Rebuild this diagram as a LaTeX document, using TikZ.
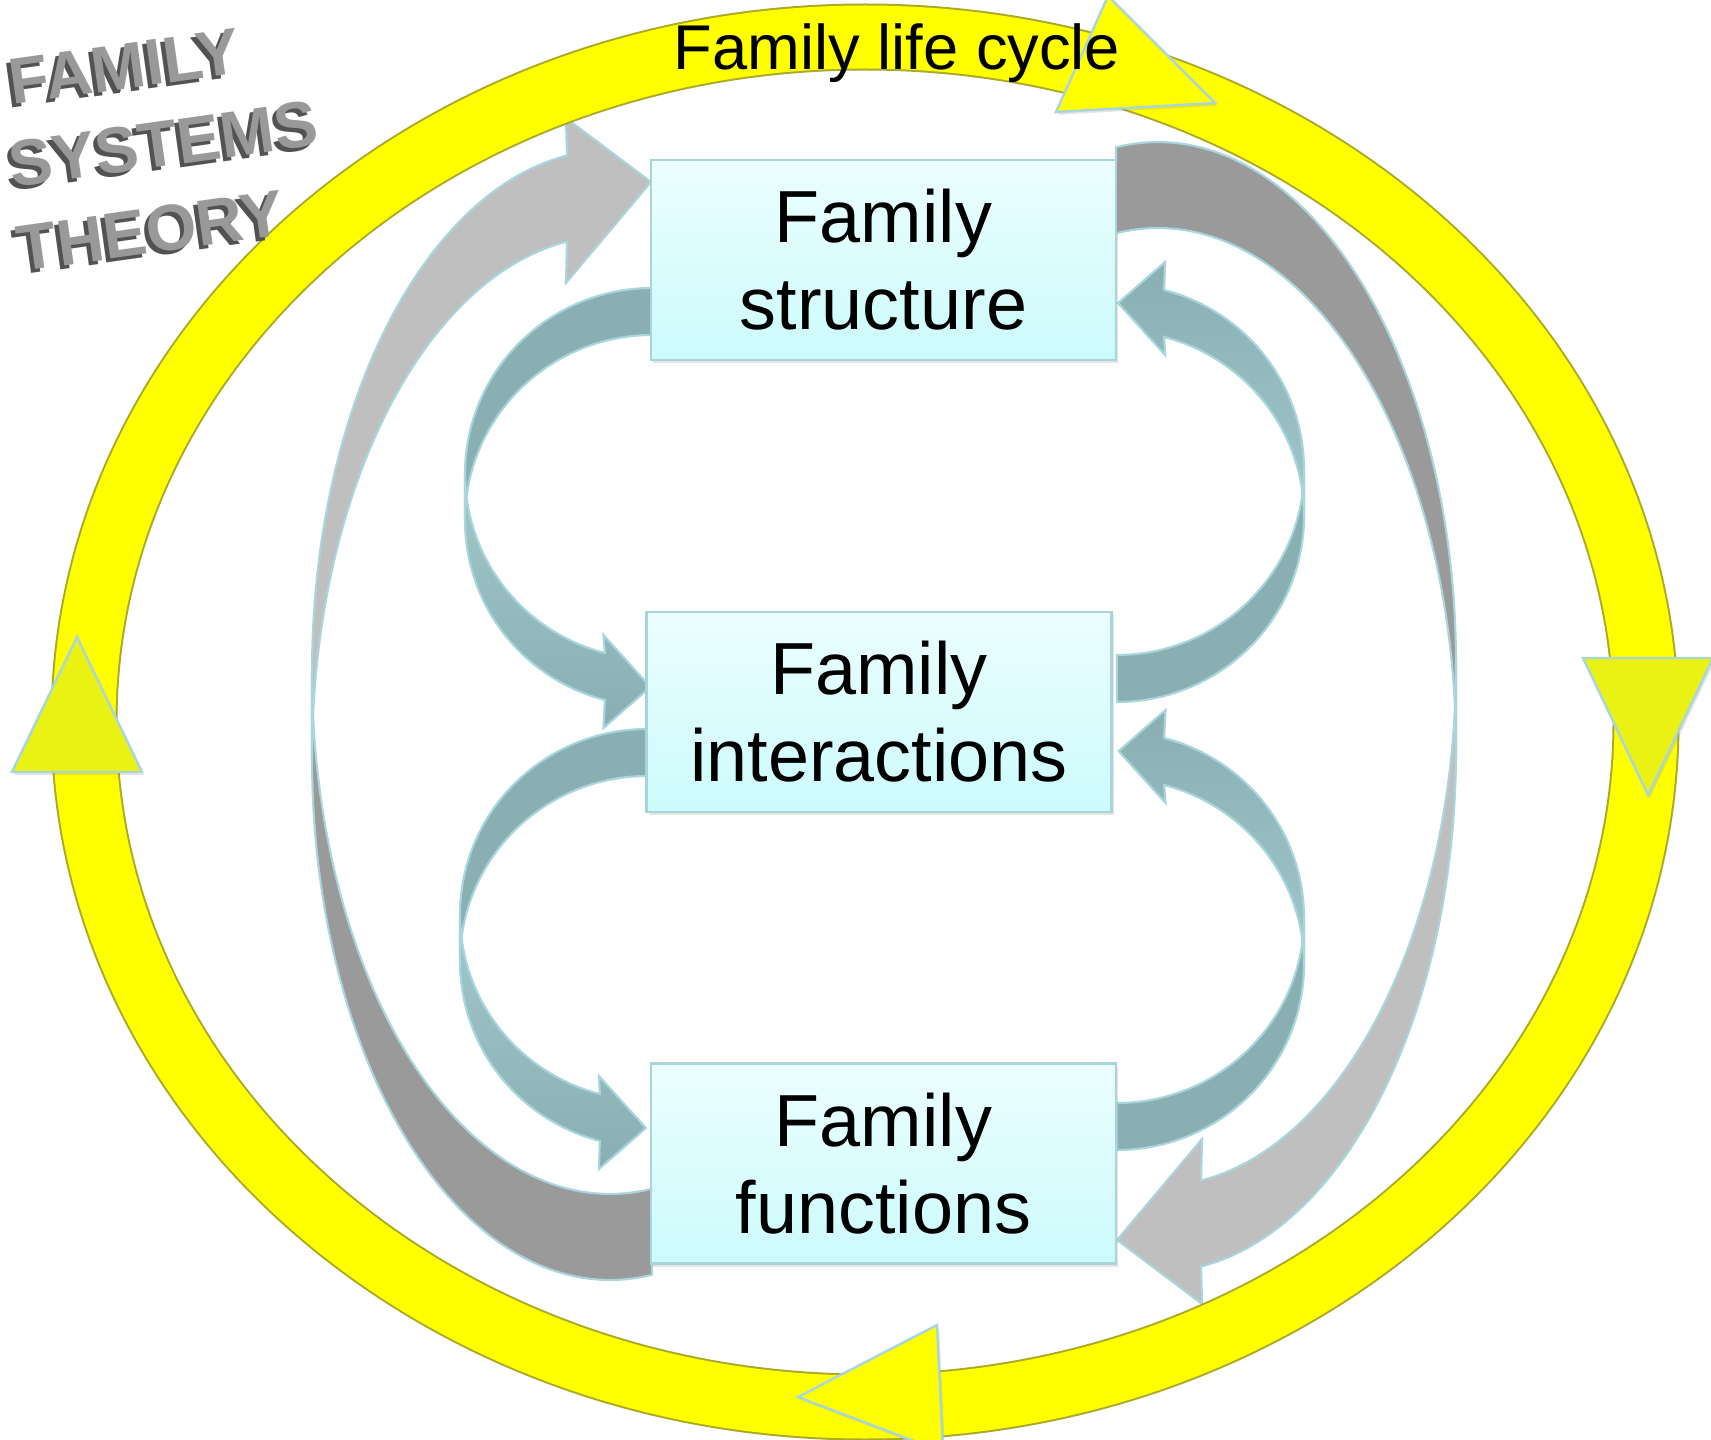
\documentclass[tikz,border=0pt]{standalone}
\usepackage{fontspec}
\setmainfont{Liberation Sans}
\usetikzlibrary{calc, shadows, backgrounds}

\definecolor{ringyellow}{RGB}{255,255,0}
\definecolor{ringedge}{RGB}{170,170,40}
\definecolor{headyellow}{RGB}{234,242,20}
\definecolor{rimblue}{RGB}{168,214,220}
\definecolor{tealdark}{RGB}{137,175,178}
\definecolor{teallight}{RGB}{160,199,202}
\definecolor{greydark}{RGB}{154,154,154}
\definecolor{greylight}{RGB}{191,191,191}
\definecolor{boxtop}{RGB}{236,254,254}
\definecolor{boxbottom}{RGB}{204,251,252}
\definecolor{boxrim}{RGB}{168,212,218}

\begin{document}
\begin{tikzpicture}
	[%
	x=0.1mm, y=-0.1mm,%
	box/.style={rectangle, draw=boxrim, line width=0.6pt, top color=boxtop, bottom color=boxbottom, minimum width=46.5mm, minimum height=20mm, inner sep=0pt, align=center, font=\fontsize{21}{24.75}\selectfont, drop shadow={opacity=0.2, shadow xshift=0.7pt, shadow yshift=-0.9pt}},%
	band/.style={draw=rimblue, line width=0.6pt},%
	cyclehead/.style={draw=rimblue, line width=0.7pt, drop shadow={opacity=0.2, shadow xshift=0.6pt, shadow yshift=-0.8pt}},%
	titletext/.style={font=\fontsize{18.5}{24}\selectfont\bfseries, rotate=8, anchor=base west, inner sep=0pt},%
	]

	% half of a bent arrow: the band between two equal ellipses (centre x, upper y, lower y, radii, angles)
	\newcommand{\ribbonpart}[9]{%
		\draw[band, #1] plot[variable=\ang, domain=#7:#8, samples=60] ({#2+#5*cos(\ang)}, {#3+#6*sin(\ang)}) #9
			-- plot[variable=\ang, domain=#8:#7, samples=60] ({#2+#5*cos(\ang)}, {#4+#6*sin(\ang)}) -- cycle;}

	\useasboundingbox (0,0) rectangle (1711,1440);

	% nodes
	\foreach \name/\px/\py in {structure/883.5/260, interactions/879/712, functions/883.5/1163.5}%
		\node[box] (\name) at (\px,\py) {Family\\\name};

	% interconnections
	\begin{scope}[on background layer]
		\fill[white] (0,0) rectangle (1711,1440);
		\coordinate (tipG1) at ($(structure.west)+(1,-78)$);
		\coordinate (tipG2) at ($(functions.east)+(0,76.5)$);
		\coordinate (tipT1) at ($(interactions.west)+(5,-25)$);
		\coordinate (tipT2) at ($(functions.west)+(-4,-35.5)$);
		\coordinate (tipT3) at ($(structure.east)+(1,43)$);
		\coordinate (tipT4) at ($(interactions.east)+(6,39)$);

		% grey: functions - structure, structure - functions
		\ribbonpart{fill=greydark}{610}{672}{758}{298}{522}{81.9}{180}{}
		\ribbonpart{fill=greylight}{610}{672}{758}{298}{522}{180}{261.7}{-- ($(tipG1)+(-85,-64)$) -- (tipG1) -- ($(tipG1)+(-85,101)$)}
		\ribbonpart{fill=greydark}{1158}{750}{664}{298}{522}{261.9}{360}{}
		\ribbonpart{fill=greylight}{1158}{750}{664}{298}{522}{360}{441.7}{-- ($(tipG2)+(85,64)$) -- (tipG2) -- ($(tipG2)+(85,-101)$)}

		% teal, left side
		\ribbonpart{fill=tealdark}{652}{473.5}{520.5}{187}{185.5}{270}{180}{}
		\ribbonpart{top color=teallight, bottom color=tealdark}{652}{473.5}{520.5}{187}{185.5}{180}{104.6}{-- ($(tipT1)+(-47,-52)$) -- (tipT1) -- ($(tipT1)+(-47,41)$)}
		\ribbonpart{fill=tealdark}{647}{914.5}{961.5}{187}{185.5}{270}{180}{}
		\ribbonpart{top color=teallight, bottom color=tealdark}{647}{914.5}{961.5}{187}{185.5}{180}{104.6}{-- ($(tipT2)+(-47,-52)$) -- (tipT2) -- ($(tipT2)+(-47,41)$)}

		% teal, right side
		\ribbonpart{fill=tealdark}{1117}{516.5}{469.5}{187}{185.5}{90}{0}{}
		\ribbonpart{top color=tealdark, bottom color=teallight}{1117}{516.5}{469.5}{187}{185.5}{0}{-75.4}{-- ($(tipT3)+(47,52)$) -- (tipT3) -- ($(tipT3)+(47,-41)$)}
		\ribbonpart{fill=tealdark}{1117}{964.5}{917.5}{187}{185.5}{90}{0}{}
		\ribbonpart{top color=tealdark, bottom color=teallight}{1117}{964.5}{917.5}{187}{185.5}{0}{-75.4}{-- ($(tipT4)+(47,52)$) -- (tipT4) -- ($(tipT4)+(47,-41)$)}

		% life cycle ring
		\draw[ringedge, line width=6.7mm] (865,722) ellipse [x radius=78.1mm, y radius=68.5mm];
		\draw[ringyellow, line width=6.3mm] (865,722) ellipse [x radius=78.1mm, y radius=68.5mm];
	\end{scope}

	% arrow heads on the ring
	\draw[cyclehead, fill=ringyellow] (1108,-4) -- (1215,103) -- (1056,112) -- cycle;
	\draw[cyclehead, fill=headyellow] (1583,658) -- (1713,658) -- (1648,795) -- cycle;
	\draw[cyclehead, fill=ringyellow] (937,1325) -- (943,1452) -- (798,1397) -- cycle;
	\draw[cyclehead, fill=headyellow] (77,637) -- (142,772) -- (12,772) -- cycle;

	\node[font=\fontsize{18}{21}\selectfont, anchor=base, inner sep=0pt] (lifecycle) at (897,70) {Family life cycle};

	% title
	\foreach \word/\px/\py in {FAMILY/12/105, SYSTEMS/12/188, THEORY/20/272}{%
		\node[titletext, text=black!68] (edge\word) at (\px-4,\py+4) {\word};
		\node[titletext, text=black!40] (title\word) at (\px,\py) {\word};
	}

\end{tikzpicture}
\end{document}
